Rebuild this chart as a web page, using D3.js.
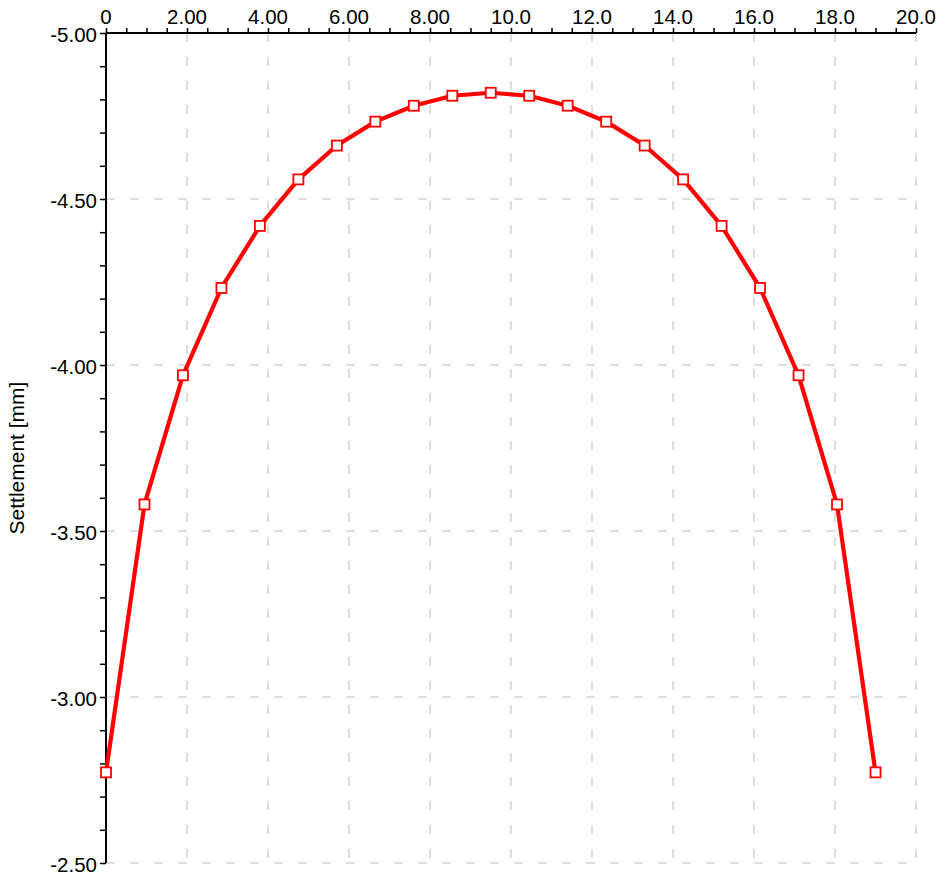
<!DOCTYPE html>
<html>
<head>
<meta charset="utf-8">
<script src="https://cdn.jsdelivr.net/npm/d3@7"></script>
<style>
  body { margin: 0; background: #fff; }
  text { font-family: "Liberation Sans", Arial, sans-serif; }
</style>
</head>
<body>
<div id="chart"></div>
<script>
// distance along section [m]
const distance = [0, 0.95, 1.9, 2.85, 3.8, 4.75, 5.7, 6.65, 7.6, 8.55, 9.5,
                  10.45, 11.4, 12.35, 13.3, 14.25, 15.2, 16.15, 17.1, 18.05, 19.0];
// settlement [mm]
const settlement = [-2.773, -3.580, -3.969, -4.232, -4.419, -4.559, -4.661, -4.733, -4.781, -4.811, -4.820,
                    -4.811, -4.781, -4.733, -4.661, -4.559, -4.419, -4.232, -3.969, -3.580, -2.773];

const xTicks = [0, 2, 4, 6, 8, 10, 12, 14, 16, 18, 20];
const xTickLabels = ["0", "2.00", "4.00", "6.00", "8.00", "10.0", "12.0", "14.0", "16.0", "18.0", "20.0"];
const yTicks = [-5, -4.5, -4, -3.5, -3, -2.5];
const yTickLabels = ["-5.00", "-4.50", "-4.00", "-3.50", "-3.00", "-2.50"];

const width = 939, height = 879;
const margin = { top: 33, right: 23, bottom: 16, left: 106 };

const svg = d3.select("#chart").append("svg")
  .attr("width", width)
  .attr("height", height);

const x = d3.scaleLinear().domain([0, 20]).range([margin.left, width - margin.right]);
const y = d3.scaleLinear().domain([-5, -2.5]).range([margin.top, height - margin.bottom]);

// grid
svg.append("g").selectAll("line")
  .data(xTicks.slice(1))
  .join("line")
  .attr("x1", d => x(d)).attr("x2", d => x(d))
  .attr("y1", y(-5)).attr("y2", y(-2.5))
  .attr("stroke", "#bdbdbd").attr("stroke-width", 1)
  .attr("stroke-dasharray", "9,15");

svg.append("g").selectAll("line")
  .data(yTicks.slice(1))
  .join("line")
  .attr("x1", x(0)).attr("x2", x(20))
  .attr("y1", d => y(d)).attr("y2", d => y(d))
  .attr("stroke", "#bdbdbd").attr("stroke-width", 1)
  .attr("stroke-dasharray", "9,15");

// top x axis
const xAxis = svg.append("g")
  .attr("transform", `translate(0,${y(-5)})`)
  .call(d3.axisTop(x).tickValues(d3.range(0, 20.01, 0.5)).tickSize(5).tickFormat(""));
xAxis.select(".domain").attr("stroke", "#000").attr("stroke-width", 2).attr("d", `M${x(0)},0H${x(20)}`);
xAxis.selectAll(".tick line").attr("stroke", "#000").attr("stroke-width", 1.5);

svg.append("g").selectAll("text")
  .data(xTicks)
  .join("text")
  .attr("x", d => x(d))
  .attr("y", 24)
  .attr("text-anchor", "middle")
  .attr("font-size", 20.5)
  .attr("fill", "#000")
  .text((d, i) => xTickLabels[i]);

// left y axis
const yAxis = svg.append("g")
  .attr("transform", `translate(${x(0)},0)`)
  .call(d3.axisLeft(y).tickValues(d3.range(-5, -2.49, 0.1)).tickSize(6).tickFormat(""));
yAxis.select(".domain").attr("stroke", "#000").attr("stroke-width", 2).attr("d", `M0,${y(-5)}V${y(-2.5)}`);
yAxis.selectAll(".tick line").attr("stroke", "#000").attr("stroke-width", 1.5);

svg.append("g").selectAll("text")
  .data(yTicks)
  .join("text")
  .attr("x", 97)
  .attr("y", d => y(d))
  .attr("dy", "0.42em")
  .attr("text-anchor", "end")
  .attr("font-size", 20.5)
  .attr("fill", "#000")
  .text((d, i) => yTickLabels[i]);

svg.append("text")
  .attr("transform", `translate(24,${(y(-5) + y(-2.5)) / 2 + 10}) rotate(-90)`)
  .attr("text-anchor", "middle")
  .attr("font-size", 21)
  .attr("fill", "#000")
  .text("Settlement [mm]");

// series
const pts = distance.map((d, i) => [d, settlement[i]]);

svg.append("path")
  .datum(pts)
  .attr("fill", "none")
  .attr("stroke", "#ff0000")
  .attr("stroke-width", 4.2)
  .attr("stroke-linejoin", "round")
  .attr("d", d3.line().x(d => x(d[0])).y(d => y(d[1])));

svg.append("g").selectAll("rect")
  .data(pts)
  .join("rect")
  .attr("x", d => x(d[0]) - 5)
  .attr("y", d => y(d[1]) - 5)
  .attr("width", 10)
  .attr("height", 10)
  .attr("fill", "#fff")
  .attr("stroke", "#ff0000")
  .attr("stroke-width", 1.8);
</script>
</body>
</html>
